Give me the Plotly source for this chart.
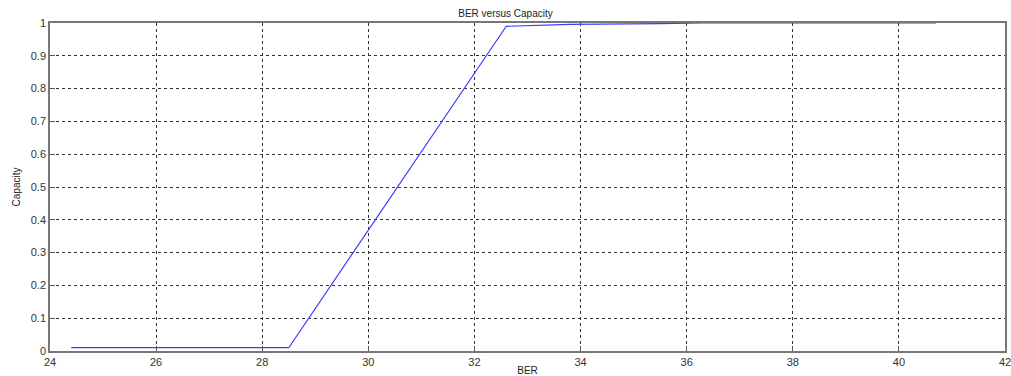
import plotly.graph_objects as go

# BER vs capacity curve
ber = [24.4, 28.5, 32.6, 33.8, 35.5, 36.3, 40.7]
capacity = [0.01, 0.01, 0.99, 0.996, 0.998, 1.0, 1.0]

x_ticks = [24, 26, 28, 30, 32, 34, 36, 38, 40, 42]
y_ticks = [0, 0.1, 0.2, 0.3, 0.4, 0.5, 0.6, 0.7, 0.8, 0.9, 1]

font = dict(family="Liberation Sans, Arial, sans-serif", size=10, color="#222")

fig = go.Figure()
fig.add_trace(go.Scatter(x=ber, y=capacity, mode="lines",
                         line=dict(color="#3b3bff", width=1.2),
                         showlegend=False, hoverinfo="skip"))

axis_common = dict(showline=True, mirror=True, linecolor="#777", linewidth=1.5,
                   showgrid=True, gridcolor="#333", griddash="dot", gridwidth=1,
                   ticks="inside", ticklen=5, tickcolor="#555", automargin=False,
                   zeroline=False, ticklabeloverflow="allow",
                   tickfont=dict(family=font["family"], size=11, color="#333"))

fig.update_xaxes(range=[24, 42], tickvals=x_ticks,
                 ticktext=[str(v) for v in x_ticks],
                 title=dict(text="BER", font=dict(size=10, color="#222"), standoff=2),
                 **axis_common)
fig.update_yaxes(range=[0, 1], tickvals=y_ticks,
                 ticktext=[("%g" % v) for v in y_ticks],
                 title=dict(text="Capacity", font=dict(size=10, color="#222"), standoff=8),
                 **axis_common)

fig.update_layout(
    width=1011, height=376,
    margin=dict(l=50, r=6, t=23, b=25),
    paper_bgcolor="white", plot_bgcolor="white",
    font=font,
    title=dict(text="BER versus Capacity", x=0.5, xanchor="center",
               y=0.965, yanchor="middle", font=dict(size=10, color="#222")),
)

fig.write_html("out.html")
